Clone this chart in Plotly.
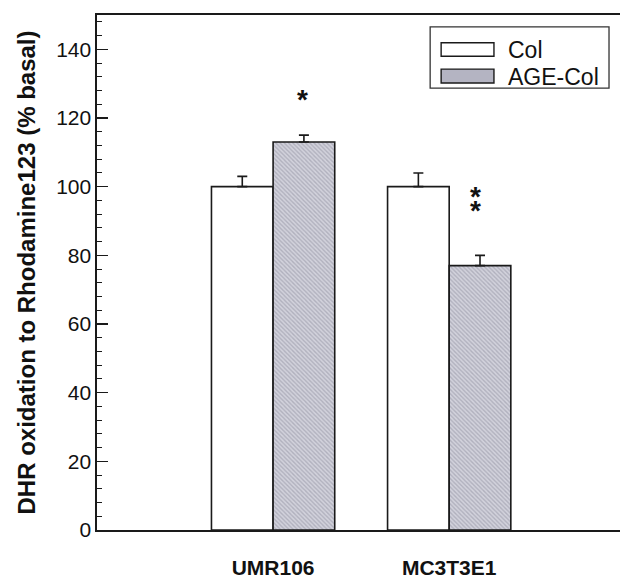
import plotly.graph_objects as go

# ---- data ----
cell_lines = ["UMR106", "MC3T3E1"]
series_names = ["Col", "AGE-Col"]
col_values = [100, 100]
col_errors = [3, 4]
age_values = [113, 77]
age_errors = [2, 3]
signif_labels = ["*", "**"]
y_ticks = [0, 20, 40, 60, 80, 100, 120, 140]
y_title = "DHR oxidation to Rhodamine123 (% basal)"

x_pos = [1, 2]

fig = go.Figure()
fig.add_trace(go.Bar(
    x=x_pos, y=col_values, name=series_names[0],
    marker=dict(color="white", line=dict(color="#1a1a1a", width=1.6)),
    error_y=dict(type="data", array=col_errors, arrayminus=[0, 0], symmetric=False,
                 color="#1a1a1a", thickness=1.6, width=5),
    showlegend=False,
))
fig.add_trace(go.Bar(
    x=x_pos, y=age_values, name=series_names[1],
    marker=dict(color="#bdbdca", line=dict(color="#1a1a1a", width=1.6),
                pattern=dict(shape="\\", fgcolor="#8e8e9e", bgcolor="#d2d2dc",
                             size=3, solidity=0.45)),
    error_y=dict(type="data", array=age_errors, arrayminus=[0, 0], symmetric=False,
                 color="#1a1a1a", thickness=1.6, width=5),
    showlegend=False,
))

# significance markers above AGE-Col bars
bar_half = 0.175
star_font = dict(family="Liberation Sans", size=28, color="#111", weight="bold")
fig.add_annotation(x=x_pos[0] + bar_half - 0.01, y=age_values[0] + age_errors[0] + 10.5,
                   text=signif_labels[0], showarrow=False, font=star_font)
for k in range(len(signif_labels[1])):
    fig.add_annotation(x=x_pos[1] + bar_half - 0.025,
                       y=age_values[1] + age_errors[1] + 17.2 - k * 4.0,
                       text="*", showarrow=False, font=star_font)

# legend drawn as a boxed key
fig.add_shape(type="rect", xref="paper", yref="paper", x0=0.637, x1=0.979, y0=0.858, y1=0.977,
              line=dict(color="#333", width=1.3), fillcolor="white")
fig.add_shape(type="rect", xref="paper", yref="paper", x0=0.658, x1=0.759, y0=0.920, y1=0.946,
              line=dict(color="#1a1a1a", width=1.4), fillcolor="white")
fig.add_shape(type="rect", xref="paper", yref="paper", x0=0.658, x1=0.759, y0=0.868, y1=0.895,
              line=dict(color="#1a1a1a", width=1.4), fillcolor="#b4b4c2")
legend_font = dict(family="Liberation Sans", size=23, color="#111")
fig.add_annotation(xref="paper", yref="paper", x=0.782, y=0.933, xanchor="left", yanchor="middle",
                   text=series_names[0], showarrow=False, font=legend_font)
fig.add_annotation(xref="paper", yref="paper", x=0.782, y=0.879, xanchor="left", yanchor="middle",
                   text=series_names[1], showarrow=False, font=legend_font)

fig.update_layout(
    width=620, height=578,
    margin=dict(l=97, r=0, t=15, b=48),
    paper_bgcolor="white", plot_bgcolor="white",
    barmode="group", bargap=0.3, bargroupgap=0,
    font=dict(family="Liberation Sans", color="#111"),
)
fig.update_xaxes(
    range=[0, 2.97], tickvals=x_pos, ticktext=cell_lines,
    showline=True, linecolor="#1a1a1a", linewidth=1.6, mirror=True,
    ticks="", showgrid=False, zeroline=False, automargin=False,
    tickfont=dict(family="Liberation Sans", size=21, weight="bold", color="#111"),
    ticklabelstandoff=18,
)
fig.update_yaxes(
    range=[0, 150], tickvals=y_ticks,
    showline=True, linecolor="#1a1a1a", linewidth=1.6, mirror=False,
    ticks="inside", ticklen=11, tickwidth=1.4, tickcolor="#1a1a1a",
    minor=dict(dtick=4, tick0=0, ticks="inside", ticklen=5, tickwidth=1.1,
               tickcolor="#1a1a1a", showgrid=False),
    showgrid=False, zeroline=False, automargin=False,
    tickfont=dict(family="Liberation Sans", size=21, color="#111"),
    title=dict(text=y_title, standoff=14,
               font=dict(family="Liberation Sans", size=24, weight="bold", color="#111")),
)

fig.write_html("out.html", config={"displayModeBar": False, "staticPlot": True})

# remove default page margin so the 620x578 figure fills the window exactly
with open("out.html", "r", encoding="utf-8") as f:
    html = f.read()
html = html.replace(
    "<head>",
    "<head><style>html,body{margin:0;padding:0;overflow:hidden;width:620px;height:578px;}</style>",
    1,
)
with open("out.html", "w", encoding="utf-8") as f:
    f.write(html)
